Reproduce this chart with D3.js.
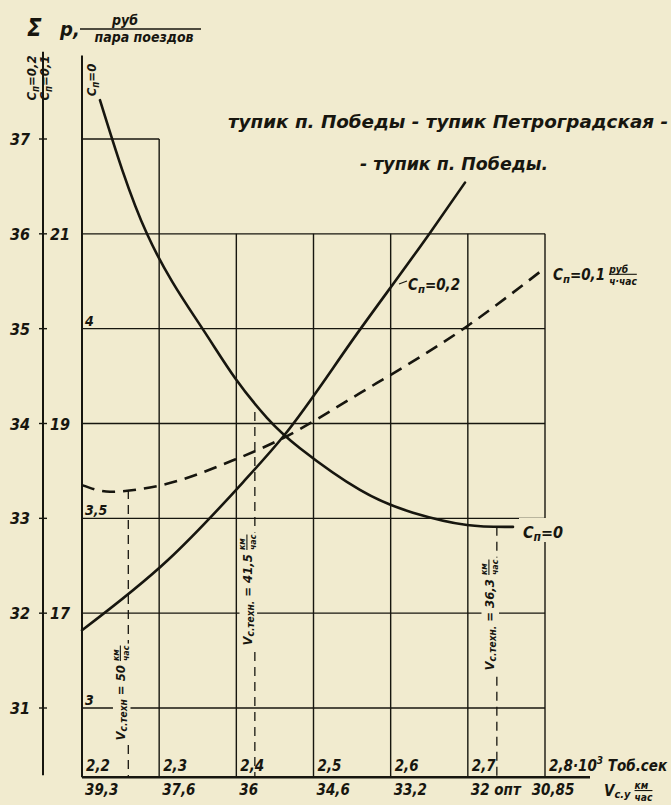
<!DOCTYPE html>
<html>
<head>
<meta charset="utf-8">
<script src="https://cdn.jsdelivr.net/npm/d3@7"></script>
<style>
  body { margin: 0; background: #f1ebcf; }
  svg text {
    font-family: 'DejaVu Sans Condensed', 'DejaVu Sans', sans-serif;
    font-style: italic;
    font-weight: bold;
    fill: #17160f;
  }
</style>
</head>
<body>
<svg id="chart" width="671" height="805"></svg>
<script>
// ---- data
const tTicks  = [2.2, 2.3, 2.4, 2.5, 2.6, 2.7, 2.8];
const tLabels = ['2,2', '2,3', '2,4', '2,5', '2,6', '2,7', '2,8'];
const vLabels = ['39,3', '37,6', '36', '34,6', '33,2', '32 опт', '30,85'];
const sumTicks = [31, 32, 33, 34, 35, 36, 37];
const cn01Ticks = [32, 34, 36];
const cn01Labels = ['17', '19', '21'];
const cn02Ticks = [31, 33, 35];
const cn02Labels = ['3', '3,5', '4'];

// curves: [T, sum P]
const curveCn0 = [
  [2.2233, 37.41], [2.2842, 36.0], [2.3529, 35.04], [2.3983, 34.48],
  [2.4397, 34.06], [2.4825, 33.74], [2.5602, 33.30], [2.6289, 33.06],
  [2.6989, 32.93], [2.7585, 32.91]
];
const curveCn02 = [
  [2.2, 31.82], [2.3114, 32.56], [2.4086, 33.38], [2.4605, 33.86],
  [2.5602, 34.99], [2.6509, 36.01], [2.6963, 36.54]
];
const curveCn01 = [
  [2.2, 33.35], [2.2363, 33.28], [2.2972, 33.34], [2.3983, 33.62],
  [2.4566, 33.83], [2.5602, 34.32], [2.6963, 35.01], [2.8, 35.64]
];
// technical speed verticals: T position, sum P where they start, label value
const vTechT = [2.26, 2.424, 2.7376];
const vTechFrom = [33.30, 34.12, 32.91];
const vTechLabels = ['50', '41,5', '36,3'];

const INK = '#17160f', PAPER = '#f1ebcf';

const svg = d3.select('#chart');
svg.append('rect').attr('width', 671).attr('height', 805).attr('fill', PAPER);

const x = d3.scaleLinear().domain([2.2, 2.8]).range([82, 545]);
const y = d3.scaleLinear().domain([31, 37]).range([708, 139]);
const sumBottom = 30.27, sumTop = 37.88;

const grid = svg.append('g').attr('stroke', INK).attr('fill', 'none');

// horizontal grid
sumTicks.forEach(v => {
  grid.append('line')
    .attr('x1', x(2.2)).attr('x2', v === 37 ? x(2.3) : x(2.8))
    .attr('y1', y(v)).attr('y2', y(v))
    .attr('stroke-width', 1.4);
});

// vertical grid
tTicks.forEach((t, i) => {
  let top = i === 0 ? sumTop : (i === 1 ? 37 : 36);
  grid.append('line')
    .attr('x1', x(t)).attr('x2', x(t))
    .attr('y1', y(top)).attr('y2', y(sumBottom))
    .attr('stroke-width', i === 0 ? 2 : 1.4);
});

// bottom axis
grid.append('line')
  .attr('x1', x(2.2)).attr('x2', x(2.8) + 45)
  .attr('y1', y(sumBottom)).attr('y2', y(sumBottom))
  .attr('stroke-width', 2.4);

// outer scale axis
const AX = 43;
grid.append('line')
  .attr('x1', AX).attr('x2', AX)
  .attr('y1', y(37.92)).attr('y2', y(30.29))
  .attr('stroke-width', 2);
sumTicks.forEach(v => {
  grid.append('line').attr('x1', AX - 4).attr('x2', AX + 4)
    .attr('y1', y(v)).attr('y2', y(v)).attr('stroke-width', 1.4);
});

// technical speed dashed verticals
vTechT.forEach((t, i) => {
  grid.append('line')
    .attr('x1', x(t)).attr('x2', x(t))
    .attr('y1', y(vTechFrom[i])).attr('y2', y(sumBottom))
    .attr('stroke-width', 1.3)
    .attr('stroke-dasharray', '9,6');
});

// curves
const line = d3.line()
  .x(d => x(d[0])).y(d => y(d[1]))
  .curve(d3.curveMonotoneX);
const smooth = d3.line()
  .x(d => x(d[0])).y(d => y(d[1]))
  .curve(d3.curveNatural);

const curves = svg.append('g').attr('fill', 'none').attr('stroke', INK)
  .attr('stroke-linecap', 'round');
curves.append('path').datum(curveCn0).attr('d', smooth).attr('stroke-width', 2.6);
curves.append('path').datum(curveCn02).attr('d', line).attr('stroke-width', 2.6);
curves.append('path').datum(curveCn01).attr('d', line).attr('stroke-width', 2.6)
  .attr('stroke-dasharray', '13,8').attr('stroke-linecap', 'butt');

// ---- texts
const txt = svg.append('g');

// helper: "C" with subscript п followed by rest
function cnText(sel, rest, size) {
  sel.append('tspan').text('C');
  sel.append('tspan').attr('font-size', size * 0.75).attr('dy', 3).text('п');
  sel.append('tspan').attr('dy', -3).text(rest);
  return sel;
}

// helper: label with trailing fraction, optional background, rotation
function fracLabel(g, px, py, rot, size, build, num, den, anchor, bg) {
  const outer = g.append('g').attr('transform', `translate(${px},${py}) rotate(${rot})`);
  const inner = outer.append('g');
  const t = inner.append('text').attr('font-size', size);
  build(t);
  const w = t.node().getComputedTextLength();
  const fx = w + 4;
  const fs = size * 0.68;
  const n = inner.append('text').attr('x', fx).attr('y', -size * 0.5).attr('font-size', fs).text(num);
  const d = inner.append('text').attr('x', fx).attr('y', size * 0.32).attr('font-size', fs).text(den);
  const fw = Math.max(n.node().getComputedTextLength(), d.node().getComputedTextLength());
  inner.append('line').attr('x1', fx).attr('x2', fx + fw)
    .attr('y1', -size * 0.38).attr('y2', -size * 0.38)
    .attr('stroke', INK).attr('stroke-width', 1.1);
  const total = fx + fw;
  if (anchor === 'middle') inner.attr('transform', `translate(${-total / 2},0)`);
  if (bg) {
    inner.insert('rect', ':first-child')
      .attr('x', -2).attr('y', -size * 0.95).attr('width', total + 4).attr('height', size * 1.35)
      .attr('fill', PAPER);
  }
  return outer;
}

// axis title
txt.append('text').attr('x', 27).attr('y', 36).attr('font-size', 24).attr('font-style', 'normal')
  .text('Σ');
txt.append('text').attr('x', 60).attr('y', 36).attr('font-size', 20).text('р,');
txt.append('text').attr('x', 125).attr('y', 25).attr('font-size', 14).attr('text-anchor', 'middle')
  .text('руб');
txt.append('line').attr('x1', 80).attr('x2', 201).attr('y1', 29).attr('y2', 29)
  .attr('stroke', INK).attr('stroke-width', 1.4);
txt.append('text').attr('x', 144).attr('y', 42).attr('font-size', 14).attr('text-anchor', 'middle')
  .text('пара поездов');

// rotated scale captions at top-left
cnText(txt.append('text').attr('font-size', 13).attr('text-anchor', 'middle')
  .attr('transform', 'translate(36,78) rotate(-90)'), '=0,2', 13);
cnText(txt.append('text').attr('font-size', 13).attr('text-anchor', 'middle')
  .attr('transform', 'translate(49,78) rotate(-90)'), '=0,1', 13);
cnText(txt.append('text').attr('font-size', 13).attr('text-anchor', 'middle')
  .attr('transform', 'translate(96,80) rotate(-90)'), '=0', 13);

// left scale labels
sumTicks.forEach(v => {
  txt.append('text').attr('x', AX - 13).attr('y', y(v) + 6).attr('font-size', 16)
    .attr('text-anchor', 'end').text(v);
});
cn01Ticks.forEach((v, i) => {
  txt.append('text').attr('x', AX + 7).attr('y', y(v) + 6).attr('font-size', 16)
    .text(cn01Labels[i]);
});
cn02Ticks.forEach((v, i) => {
  txt.append('text').attr('x', x(2.2) + 3).attr('y', y(v) - 3).attr('font-size', 14)
    .text(cn02Labels[i]);
});

// bottom T labels
tTicks.forEach((t, i) => {
  const el = txt.append('text').attr('x', x(t) + 4).attr('y', y(sumBottom) - 6).attr('font-size', 15);
  el.append('tspan').text(tLabels[i]);
  if (i === tTicks.length - 1) {
    el.append('tspan').text('·10');
    el.append('tspan').attr('font-size', 10).attr('dy', -7).text('3');
    el.append('tspan').attr('dy', 7).text(' Тоб.сек');
  }
});
// bottom V labels
tTicks.forEach((t, i) => {
  const last = i === tTicks.length - 1;
  txt.append('text')
    .attr('x', last ? x(t) + 8 : x(t) + 3)
    .attr('y', y(sumBottom) + 18).attr('font-size', 15)
    .attr('text-anchor', last ? 'middle' : 'start')
    .text(vLabels[i]);
});
fracLabel(txt, 604, y(sumBottom) + 19, 0, 15,
  t => { t.append('tspan').text('V'); t.append('tspan').attr('font-size', 11).attr('dy', 2).text('с.у'); },
  'км', 'час', 'start', false);

// technical speed labels
vTechT.forEach((t, i) => {
  const cy = [693, 590, 615][i];
  const dot = i === 0 ? '' : '.';
  fracLabel(txt, x(t) - 3, cy, -90, 13,
    s => {
      s.append('tspan').text('V');
      s.append('tspan').attr('font-size', 10).attr('dy', 2).text('с.техн' + dot);
      s.append('tspan').attr('dy', -2).text(' = ' + vTechLabels[i]);
    },
    'км', 'час', 'middle', true);
});

// curve labels
cnText(txt.append('text').attr('x', 408).attr('y', 290).attr('font-size', 15), '=0,2', 15);
txt.append('line').attr('x1', 399).attr('x2', 407).attr('y1', 284).attr('y2', 281)
  .attr('stroke', INK).attr('stroke-width', 1.2);
fracLabel(txt, 553, 280, 0, 15, s => cnText(s, '=0,1', 15), 'руб', 'ч·час', 'start', false);
const c0 = txt.append('g');
c0.append('rect').attr('x', 519).attr('y', 518).attr('width', 48).attr('height', 24).attr('fill', PAPER);
cnText(c0.append('text').attr('x', 523).attr('y', 538).attr('font-size', 16), '=0', 16);

// route caption
txt.append('text').attr('x', 228).attr('y', 128).attr('font-size', 18)
  .attr('textLength', 440).attr('lengthAdjust', 'spacingAndGlyphs')
  .text('тупик  п. Победы - тупик  Петроградская -');
txt.append('text').attr('x', 360).attr('y', 170).attr('font-size', 18)
  .attr('textLength', 188).attr('lengthAdjust', 'spacingAndGlyphs')
  .text('- тупик  п. Победы.');
</script>
</body>
</html>
